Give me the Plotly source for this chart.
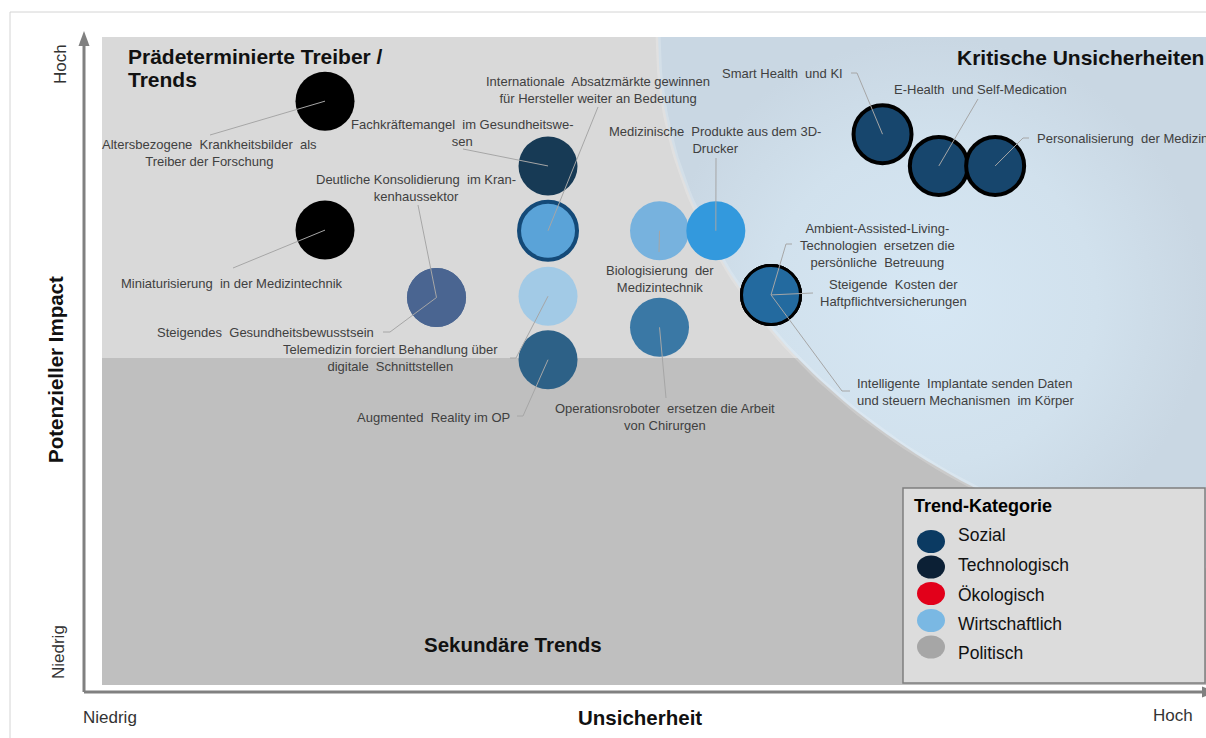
import numpy as np
import plotly.graph_objects as go

# ---------------- data ----------------
trends = [
    "Altersbezogene Krankheitsbilder als Treiber der Forschung",
    "Miniaturisierung in der Medizintechnik",
    "Fachkräftemangel im Gesundheitswesen",
    "Internationale Absatzmärkte gewinnen für Hersteller weiter an Bedeutung",
    "Deutliche Konsolidierung im Krankenhaussektor",
    "Steigendes Gesundheitsbewusstsein",
    "Telemedizin forciert Behandlung über digitale Schnittstellen",
    "Augmented Reality im OP",
    "Biologisierung der Medizintechnik",
    "Medizinische Produkte aus dem 3D-Drucker",
    "Operationsroboter ersetzen die Arbeit von Chirurgen",
    "Ambient-Assisted-Living-Technologien ersetzen die persönliche Betreuung",
    "Steigende Kosten der Haftpflichtversicherungen",
    "Intelligente Implantate senden Daten und steuern Mechanismen im Körper",
    "Smart Health und KI",
    "E-Health und Self-Medication",
    "Personalisierung der Medizin",
]
uncertainty = [20.2, 20.2, 40.4, 40.4, 30.3, 30.3, 40.4, 40.4, 50.5, 55.6, 50.5, 60.6, 60.6, 60.6, 70.7, 75.8, 80.9]
impact = [90.1, 70.2, 80.1, 70.1, 59.8, 59.8, 60.0, 50.2, 70.1, 70.1, 55.2, 60.2, 60.2, 60.2, 85.0, 80.1, 80.1]

legend_names = ["Sozial", "Technologisch", "Ökologisch", "Wirtschaftlich", "Politisch"]

# ---------------- styles ----------------
fill_colors = ["#000000", "#000000", "#173a55", "#5aa3d8", "#4a6591", "#4a6591", "#a2cae6",
               "#2d6187", "#77b2de", "#3399dd", "#3a78a5", "#236a9f", "#236a9f", "#236a9f",
               "#17466d", "#17466d", "#17466d"]
line_colors = [None, None, None, "#144a78", None, None, None, None, None, None, None,
               "#000000", "#000000", "#000000", "#000000", "#000000", "#000000"]
line_widths = [0, 0, 0, 4, 0, 0, 0, 0, 0, 0, 0, 3, 3, 3, 4, 4, 4]
legend_colors = ["#0b3a62", "#0c2035", "#e2001a", "#7ab8e3", "#a6a6a6"]

# label texts (wrapped as in the reference)
label_texts = [
    "Altersbezogene  Krankheitsbilder  als<br>Treiber der Forschung",
    "Miniaturisierung  in der Medizintechnik",
    "Fachkräftemangel  im Gesundheitswe-<br>sen",
    "Internationale  Absatzmärkte gewinnen<br>für Hersteller weiter an Bedeutung",
    "Deutliche Konsolidierung  im Kran-<br>kenhaussektor",
    "Steigendes  Gesundheitsbewusstsein",
    "Telemedizin forciert Behandlung über<br>digitale  Schnittstellen",
    "Augmented  Reality im OP",
    "Biologisierung  der<br>Medizintechnik",
    "Medizinische  Produkte aus dem 3D-<br>Drucker",
    "Operationsroboter  ersetzen die Arbeit<br>von Chirurgen",
    "Ambient-Assisted-Living-<br>Technologien  ersetzen die<br>persönliche  Betreuung",
    "Steigende  Kosten der<br>Haftpflichtversicherungen",
    "Intelligente  Implantate senden Daten<br>und steuern Mechanismen  im Körper",
    "Smart Health  und KI",
    "E-Health  und Self-Medication",
    "Personalisierung  der Medizin",
]
# label placement in page pixels (x, y, xanchor)
label_pos = [
    (209, 153, "center"), (232, 283, "center"), (462, 133, "center"), (598, 90, "center"),
    (416, 188, "center"), (265, 332, "center"), (390, 358, "center"), (433, 417, "center"),
    (660, 279, "center"), (715, 140, "center"), (665, 417, "center"), (877, 245, "center"),
    (893, 293, "center"), (855, 392, "left"), (845, 73, "right"), (892, 89, "left"),
    (1035, 138, "left"),
]
# leader line waypoints (page pixels) after the bubble centre
leaders = [
    [(210, 135)], [(233, 268)], [(463, 149)], [(598, 107)],
    [(418, 205)], [(390, 332), (383, 332)], [(516, 358), (510, 358)], [(523, 416), (517, 416)],
    [(659, 252)], [(716, 158)], [(666, 398)], [(786, 244), (792, 244)],
    [(813, 293)], [(842, 391), (850, 391)], [(857, 73), (851, 73)], [(978, 99)],
    [(1023, 138), (1029, 138)],
]

# ---------------- geometry helpers ----------------
L, T, R, B = 102, 37, 1206, 685
def dx(px): return (px - L) / (R - L) * 100
def dy(py): return (B - py) / (B - T) * 100
def ppx(px): return (px - L) / (R - L)
def ppy(py): return (B - py) / (B - T)

FONT = "Liberation Sans, Arial, sans-serif"

fig = go.Figure()

# blue "critical uncertainties" region (ellipse, clipped to plot)
ecx, ecy, ea, eb = dx(1400), 100.0, 67.2, 84.9
ys = np.linspace(100, ecy - eb * np.sqrt(1 - ((100 - ecx) / ea) ** 2), 80)
xs = ecx - ea * np.sqrt(np.clip(1 - ((ys - ecy) / eb) ** 2, 0, 1))
px_ = list(xs) + [100, 100]
py_ = list(ys) + [ys[-1], 100]
fig.add_trace(go.Scatter(
    x=px_, y=py_, mode="lines", fill="toself", line=dict(width=0),
    fillgradient=dict(type="radial", colorscale=[[0, "#d6e7f4"], [0.6, "#d1e1ed"], [1, "#c9d7e3"]]),
    hoverinfo="skip", showlegend=False))
# soft light rim along the boundary
fig.add_trace(go.Scatter(x=list(xs), y=list(ys), mode="lines",
                         line=dict(color="rgba(255,255,255,0.2)", width=5),
                         hoverinfo="skip", showlegend=False))

# bubbles
for i in range(len(trends)):
    lw = line_widths[i]
    size = 59 if lw == 0 else 62 - lw
    fig.add_trace(go.Scatter(
        x=[uncertainty[i]], y=[impact[i]], mode="markers",
        marker=dict(size=size, color=fill_colors[i],
                    line=dict(width=lw, color=line_colors[i] or fill_colors[i])),
        name=trends[i], hovertext=trends[i], hoverinfo="text", showlegend=False))

shapes = []
# lower darker region
shapes.append(dict(type="rect", xref="x", yref="y", x0=0, x1=100, y0=0, y1=dy(358),
                   fillcolor="#bfbfbf", line=dict(width=0), layer="below"))

# leader lines
for i in range(len(trends)):
    pts = [(uncertainty[i], impact[i])] + [(dx(a), dy(b)) for a, b in leaders[i]]
    path = "M " + " L ".join(f"{x:.3f},{y:.3f}" for x, y in pts)
    shapes.append(dict(type="path", xref="x", yref="y", path=path,
                       line=dict(color="#a6a6a6", width=1), layer="above"))

# outer border
shapes.append(dict(type="rect", xref="paper", yref="paper", x0=ppx(10), y0=ppy(770), x1=ppx(1240), y1=ppy(12),
                   line=dict(color="#d4d4d4", width=1), fillcolor="rgba(0,0,0,0)", layer="above"))
# axes arrows
ax_col = "#808080"
shapes.append(dict(type="line", xref="paper", yref="paper", x0=ppx(84), y0=ppy(692), x1=ppx(84), y1=ppy(44),
                   line=dict(color=ax_col, width=3), layer="above"))
shapes.append(dict(type="path", xref="paper", yref="paper",
                   path=f"M {ppx(84)},{ppy(31)} L {ppx(78.5)},{ppy(46)} L {ppx(89.5)},{ppy(46)} Z",
                   fillcolor=ax_col, line=dict(width=0), layer="above"))
shapes.append(dict(type="line", xref="paper", yref="paper", x0=ppx(84), y0=ppy(692), x1=ppx(1204), y1=ppy(692),
                   line=dict(color=ax_col, width=3), layer="above"))
shapes.append(dict(type="path", xref="paper", yref="paper",
                   path=f"M {ppx(1217)},{ppy(692)} L {ppx(1202)},{ppy(686.5)} L {ppx(1202)},{ppy(697.5)} Z",
                   fillcolor=ax_col, line=dict(width=0), layer="above"))

# legend box
shapes.append(dict(type="rect", xref="paper", yref="paper", x0=ppx(903), y0=ppy(683), x1=ppx(1205), y1=ppy(488),
                   fillcolor="#dcdcdc", line=dict(color="#7f7f7f", width=1.5), layer="above"))
leg_circle_y = [541.5, 567, 593.5, 620.5, 647]
leg_text_y = [535, 565, 595, 624, 653]
for c, cy in zip(legend_colors, leg_circle_y):
    shapes.append(dict(type="circle", xref="paper", yref="paper",
                       x0=ppx(917), x1=ppx(945), y0=ppy(cy + 11.5), y1=ppy(cy - 11.5),
                       fillcolor=c, line=dict(width=0), layer="above"))

annotations = []
for i in range(len(trends)):
    x, y, anc = label_pos[i]
    annotations.append(dict(xref="x", yref="y", x=dx(x), y=dy(y), text=label_texts[i],
                            xanchor=anc, yanchor="middle", align=anc,
                            showarrow=False, font=dict(family=FONT, size=13, color="#404040")))

def pa(text, x, y, size, xanchor="center", angle=0, color="#262626", bold=False, align="left"):
    annotations.append(dict(xref="paper", yref="paper", x=ppx(x), y=ppy(y),
                            text=f"<b>{text}</b>" if bold else text, textangle=angle,
                            xanchor=xanchor, yanchor="middle", showarrow=False, align=align,
                            font=dict(family=FONT, size=size, color=color)))

pa("Prädeterminierte Treiber /", 126, 56, 21, "left", bold=True, color="#111111")
pa("Trends", 126, 80, 21, "left", bold=True, color="#111111")
pa("Kritische Unsicherheiten", 955, 57, 21, "left", bold=True, color="#111111")
pa("Sekundäre Trends", 513, 644, 20.5, bold=True, color="#111111")
pa("Potenzieller Impact", 56, 370, 20.5, angle=-90, bold=True, color="#111111")
pa("Hoch", 61, 64, 17, angle=-90, color="#333333")
pa("Niedrig", 58, 652, 17, angle=-90, color="#333333")
pa("Niedrig", 110, 718, 17, color="#333333")
pa("Unsicherheit", 640, 717, 20.5, bold=True, color="#111111")
pa("Hoch", 1173, 715, 17, color="#333333")
pa("Trend-Kategorie", 912, 506, 18, "left", bold=True, color="#000000")
for name, ty in zip(legend_names, leg_text_y):
    pa(name, 956, ty, 17.5, "left", color="#111111")

fig.update_layout(
    width=1206, height=738,
    margin=dict(l=L, r=1206 - R, t=T, b=738 - B, autoexpand=False),
    paper_bgcolor="white", plot_bgcolor="#d9d9d9", showlegend=False,
    xaxis=dict(range=[0, 100], visible=False, fixedrange=True),
    yaxis=dict(range=[0, 100], visible=False, fixedrange=True),
    shapes=shapes, annotations=annotations,
)
fig.write_html("out.html", config={"displayModeBar": False},
               post_script="document.body.style.margin='0px';document.body.style.overflow='hidden';")
